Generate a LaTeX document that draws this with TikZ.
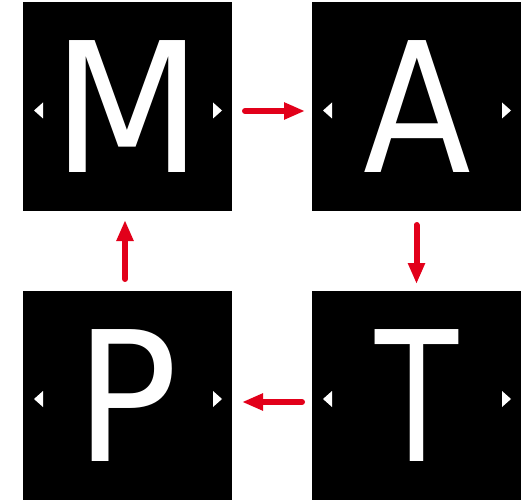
\documentclass[tikz,border=0pt]{standalone}
\usepackage{fontspec}
\setmainfont{DejaVu Sans}
\usetikzlibrary{arrows.meta}
\definecolor{arrred}{HTML}{E2001A}
\tikzset{
  tile/.style={fill=black, draw=none, minimum size=209pt, inner sep=0pt, outer sep=0pt},
  letter/.style={text=white, anchor=base, inner sep=0pt, text depth=0pt, transform shape, font=\fontsize{181}{181}\selectfont},
  tri/.style={fill=white, draw=none},
  arr/.style={draw=arrred, line width=6pt, line cap=round, -{Triangle[length=21pt,width=16pt]}}
}
\begin{document}
\begin{tikzpicture}[x=1pt,y=-1pt]
\useasboundingbox (0,0) rectangle (526,502);
% tiles
\node[tile] (M) at (127.5,106.5) {};
\node[tile] (A) at (416.5,106.5) {};
\node[tile] (P) at (127.5,395.5) {};
\node[tile] (T) at (416.5,395.5) {};
% letters
\node[letter, xscale=0.96] (Ml) at (127.5,173) {M};
\node[letter, xscale=0.87] (Al) at (417.5,173) {A};
\node[letter, xscale=0.94] (Pl) at (127,461) {P};
\node[letter, xscale=0.75] (Tl) at (416.5,461) {T};
% small triangles
\foreach \bx/\cy in {23/110.5, 312/110.5, 23/399, 312/399}{
  \fill[tri] (\bx+11,\cy) -- (\bx+20,\cy-8) -- (\bx+20,\cy+8) -- cycle;
  \fill[tri] (\bx+199,\cy) -- (\bx+190,\cy-8) -- (\bx+190,\cy+8) -- cycle;
}
% connectors
\draw[arr] ([xshift=13pt,yshift=-4.5pt]M.east) -- ([xshift=-7pt,yshift=-4.5pt]A.west);
\draw[arr] ([yshift=-14pt]A.south) -- ([yshift=7pt]T.north);
\draw[arr] ([xshift=-10pt,yshift=-6.5pt]T.west) -- ([xshift=10pt,yshift=-6.5pt]P.east);
\draw[arr] ([xshift=-2.5pt,yshift=12pt]P.north) -- ([xshift=-2.5pt,yshift=-9pt]M.south);
\end{tikzpicture}
\end{document}
